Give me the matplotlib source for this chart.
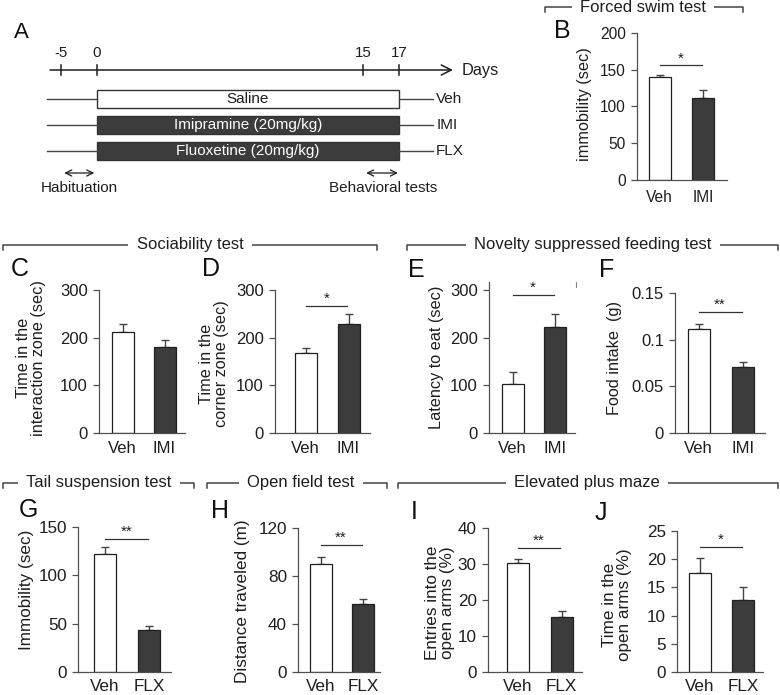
import matplotlib
matplotlib.use('Agg')
import matplotlib.pyplot as plt

plt.rcParams['font.family'] = ['Liberation Sans', 'DejaVu Sans']

W, H = 780, 695
DARK = '#3c3c3c'
INK = '#1e1e1e'
AXC = '#505050'

# ---- data ----
imi_groups = ['Veh', 'IMI']
flx_groups = ['Veh', 'FLX']

fst_mean, fst_err = [140, 111], [3, 11]              # B forced swim
inter_mean, inter_err = [211, 181], [17, 15]         # C interaction zone
corner_mean, corner_err = [168, 229], [11, 20]       # D corner zone
lat_mean, lat_err = [102, 223], [27, 27]             # E latency to eat
food_mean, food_err = [0.111, 0.071], [0.006, 0.005] # F food intake
tst_mean, tst_err = [122, 43], [7, 5]                # G tail suspension
dist_mean, dist_err = [90, 57], [6, 4]               # H open field
entr_mean, entr_err = [30.2, 15.4], [1.3, 1.5]       # I EPM entries
time_mean, time_err = [17.5, 12.7], [2.8, 2.4]       # J EPM time

# timeline (panel A)
day_labels = ['-5', '0', '15', '17']
day_pos = [-2, 0, 15, 17]   # axis is compressed before day 0
treatments = ['Saline', 'Imipramine (20mg/kg)', 'Fluoxetine (20mg/kg)']
tl_groups = ['Veh', 'IMI', 'FLX']

fig = plt.figure(figsize=(W / 100, H / 100), dpi=100)

# overlay in pixel coords for headers / letters
ov = fig.add_axes([0, 0, 1, 1])
ov.set_xlim(0, W)
ov.set_ylim(H, 0)
ov.axis('off')


def px_axes(left, top, right, bottom):
    return fig.add_axes([left / W, 1 - bottom / H, (right - left) / W, (bottom - top) / H])


def header(text, x0, x1, xc, y, fs=12):
    ov.plot([x0, x0, x1, x1], [y + 5, y, y, y + 5], color='#444444', lw=1.1, zorder=1)
    ov.text(xc, y, text, ha='center', va='center', fontsize=fs, color=INK, zorder=2,
            bbox=dict(boxstyle='square,pad=0.5', fc='white', ec='none'))


def bar_panel(box, centers, ymax, ticks, ticklabels, means, errs, groups, ylabel,
              lab_xy, sig=None, stars='*', fs=12, lfs=11.7, xpad=6):
    left, top, right, bottom = box
    ax = px_axes(left, top, right, bottom)
    c1, c2 = centers
    unit = c2 - c1
    ax.set_xlim(1 - (c1 - left) / unit, 2 + (right - c2) / unit)
    ax.set_ylim(0, ymax)
    w = 22 / unit
    ax.bar([1, 2], means, width=w, color=['white', DARK], edgecolor='#202020',
           linewidth=0.9, zorder=2)
    ax.errorbar([1, 2], means, yerr=[[0, 0], errs], fmt='none', ecolor='#444444',
                elinewidth=1.0, capsize=3, capthick=1.0, zorder=1)
    ax.set_xticks([1, 2])
    ax.set_xticklabels(groups, fontsize=fs, color=INK)
    ax.set_yticks(ticks)
    ax.set_yticklabels(ticklabels, fontsize=fs, color=INK)
    ax.tick_params(axis='x', length=0, pad=xpad)
    ax.tick_params(axis='y', length=4, width=0.9, color=AXC, pad=4)
    for s in ['top', 'right']:
        ax.spines[s].set_visible(False)
    for s in ['left', 'bottom']:
        ax.spines[s].set_color(AXC)
        ax.spines[s].set_linewidth(0.9)
    if sig is not None:
        ax.plot([1.0, 1.97], [sig, sig], color='#333333', lw=0.9)
        ax.text(1.485, sig, stars, ha='center', va='bottom', fontsize=11, color=INK)
    lx, ly = lab_xy
    ov.text(lx, ly, ylabel, rotation=90, ha='center', va='center', fontsize=lfs,
            color=INK, multialignment='center', linespacing=1.0)
    return ax


# ---- panel A: timeline ----
axA = px_axes(0, 0, 520, 200)
axA.set_xlim((0 - 97) / 17.76, (520 - 97) / 17.76)
axA.set_ylim(200, 0)
axA.axis('off')
axA.annotate('', xy=(20.2, 70), xytext=(-2.8, 70),
             arrowprops=dict(arrowstyle='->', color=INK, lw=1.1, mutation_scale=18))
for lab, p in zip(day_labels, day_pos):
    axA.plot([p, p], [65, 75], color=INK, lw=1.1)
    axA.text(p, 53, lab, ha='center', va='center', fontsize=10.8, color=INK)
axA.text(20.55, 71, 'Days', ha='left', va='center', fontsize=11.8, color=INK)
for i, (tr, g) in enumerate(zip(treatments, tl_groups)):
    yc = 99 + 26 * i
    axA.plot([-2.8, 0], [yc, yc], color='#444444', lw=1.0)
    axA.plot([17, 18.9], [yc, yc], color='#444444', lw=1.0)
    fc = 'white' if i == 0 else DARK
    axA.add_patch(plt.Rectangle((0, yc - 9), 17, 18, fc=fc, ec='#333333', lw=1.0))
    axA.text(8.5, yc, tr, ha='center', va='center', fontsize=11,
             color=INK if i == 0 else 'white')
    axA.text(19.1, yc, g, ha='left', va='center', fontsize=11, color=INK)
axA.annotate('', xy=(0, 173), xytext=(-2, 173),
             arrowprops=dict(arrowstyle='<->', color=INK, lw=0.9, mutation_scale=11))
axA.annotate('', xy=(17.1, 173), xytext=(15, 173),
             arrowprops=dict(arrowstyle='<->', color=INK, lw=0.9, mutation_scale=11))
axA.text(-1.0, 188, 'Habituation', ha='center', va='center', fontsize=11, color=INK)
axA.text(16.1, 188, 'Behavioral tests', ha='center', va='center', fontsize=11, color=INK)

# ---- headers ----
header('Forced swim test', 545, 743, 643, 7)
header('Sociability test', 3, 377, 190, 245)
header('Novelty suppressed feeding test', 407, 778, 593, 245)
header('Tail suspension test', 3, 194, 99, 483)
header('Open field test', 207, 387, 301, 483)
header('Elevated plus maze', 398, 778, 587, 483)

# ---- bar panels ----
bar_panel((637, 33, 727, 180), (659.5, 703), 200, [0, 50, 100, 150, 200],
          ['0', '50', '100', '150', '200'], fst_mean, fst_err, imi_groups,
          'immobility (sec)', (585, 104), sig=156, fs=11.2, xpad=7)
bar_panel((99, 290, 185, 433), (122.5, 164.5), 300, [0, 100, 200, 300],
          ['0', '100', '200', '300'], inter_mean, inter_err, imi_groups,
          'Time in the\ninteraction zone (sec)', (31, 358))
bar_panel((275, 290, 370, 433), (305.5, 348.5), 300, [0, 100, 200, 300],
          ['0', '100', '200', '300'], corner_mean, corner_err, imi_groups,
          'Time in the\ncorner zone (sec)', (214, 364), sig=266)
bar_panel((489, 282, 575, 433), (512.5, 555), 300 * 151 / 143, [0, 100, 200, 300],
          ['0', '100', '200', '300'], lat_mean, lat_err, imi_groups,
          'Latency to eat (sec)', (436, 357), sig=289)
bar_panel((675, 293, 765, 433), (698.5, 743), 0.15, [0, 0.05, 0.1, 0.15],
          ['0', '0.05', '0.1', '0.15'], food_mean, food_err, imi_groups,
          'Food intake  (g)', (614, 358), sig=0.1296, stars='**')
bar_panel((78, 527, 171, 672), (105, 149), 150, [0, 50, 100, 150],
          ['0', '50', '100', '150'], tst_mean, tst_err, flx_groups,
          'Immobility (sec)', (27, 590), sig=137.6, stars='**', fs=12.3, lfs=12.3, xpad=5)
bar_panel((298, 528, 380, 672), (320.5, 363), 120, [0, 40, 80, 120],
          ['0', '40', '80', '120'], dist_mean, dist_err, flx_groups,
          'Distance traveled (m)', (243, 601), sig=105.8, stars='**', fs=12.3, lfs=12.3, xpad=5)
bar_panel((488, 528, 582, 672), (518, 561.5), 40, [0, 10, 20, 30, 40],
          ['0', '10', '20', '30', '40'], entr_mean, entr_err, flx_groups,
          'Entries into the\nopen arms (%)', (440, 603), sig=34.4, stars='**', fs=12.3, lfs=12.3, xpad=5)
bar_panel((677, 531, 763, 672), (700, 743), 25, [0, 5, 10, 15, 20, 25],
          ['0', '5', '10', '15', '20', '25'], time_mean, time_err, flx_groups,
          'Time in the\nopen arms (%)', (617, 605), sig=22.2, fs=12.3, lfs=12.3, xpad=5)

# small stray mark in panel E
ov.plot([576, 576], [282, 287], color='#888888', lw=0.8)

# ---- panel letters ----
letters = ['A', 'B', 'C', 'D', 'E', 'F', 'G', 'H', 'I', 'J']
letter_xy = [(14, 33), (554, 31), (11, 269), (202, 269), (408, 270),
             (599, 270), (19, 510), (211, 511), (411, 512), (595, 513)]
for t, (x, y) in zip(letters, letter_xy):
    ov.text(x, y, t, ha='left', va='center', fontsize=18 if t != 'A' else 16, color='#111111')

fig.savefig('out.png', dpi=100)
